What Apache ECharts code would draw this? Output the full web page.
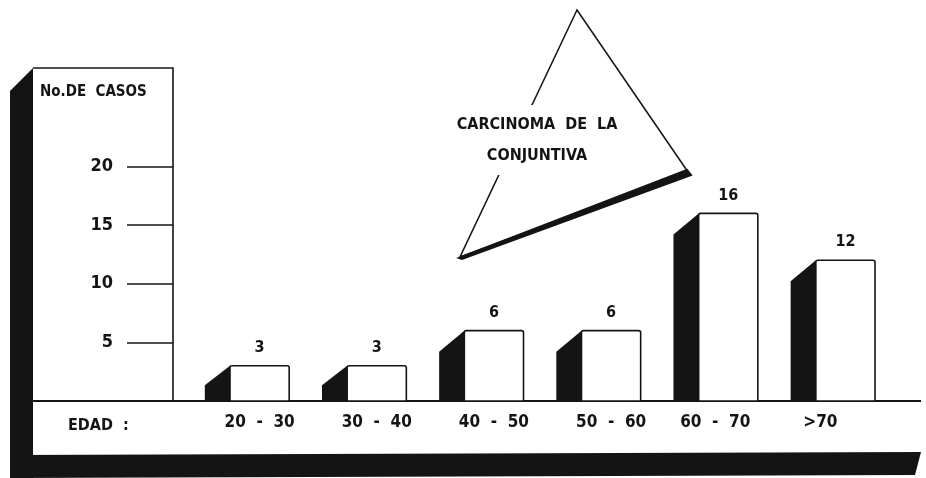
<!DOCTYPE html>
<html>
<head>
<meta charset="utf-8">
<script src="https://cdn.jsdelivr.net/npm/echarts@6/dist/echarts.min.js"></script>
<style>
  html, body { margin: 0; padding: 0; background: #fff; }
  #chart { width: 926px; height: 478px; }
</style>
</head>
<body>
<div id="chart"></div>
<script>
// Age groups and number of cases
const categories = ['20 - 30', '30 - 40', '40 - 50', '50 - 60', '60 - 70', '>70'];
const cases = [3, 3, 6, 6, 16, 12];
const yTickValues = [5, 10, 15, 20];

const titleLines = ['CARCINOMA  DE  LA', 'CONJUNTIVA'];
const yAxisTitle = 'No.DE  CASOS';
const xAxisTitle = 'EDAD  :';

const INK = '#141414';
const FONT = '"DejaVu Sans Condensed", "DejaVu Sans", sans-serif';

const chart = echarts.init(document.getElementById('chart'));

// 3D-looking bar: white front face with a black slanted side face on the left
function renderBar(params, api) {
  const top = api.coord([api.value(0), api.value(1)]);
  const base = api.coord([api.value(0), 0]);
  const band = api.size([1, 0])[0];
  const w = band * 0.505;
  const x0 = top[0] - w / 2;
  const x1 = top[0] + w / 2;
  const dx = band * 0.215;
  const h = base[1] - top[1];
  const dy = Math.min(21, h * 0.55);
  return {
    type: 'group',
    children: [
      {
        type: 'polygon',
        shape: { points: [[x0, top[1]], [x0 - dx, top[1] + dy], [x0 - dx, base[1]], [x0, base[1]]] },
        style: { fill: INK }
      },
      {
        type: 'rect',
        shape: { x: x0, y: top[1], width: w, height: h, r: [2, 2, 0, 0] },
        style: { fill: '#fff', stroke: INK, lineWidth: 1.6 }
      },
      {
        type: 'text',
        x: top[0],
        y: top[1] - 10,
        style: {
          text: String(api.value(1)),
          align: 'center',
          verticalAlign: 'bottom',
          fill: INK,
          font: 'bold 16px ' + FONT
        }
      }
    ]
  };
}

const option = {
  backgroundColor: '#fff',
  animation: false,
  grid: { left: 201, right: 22, top: 68, bottom: 77 },
  xAxis: {
    type: 'category',
    data: categories,
    axisLine: { show: false },
    axisTick: { show: false },
    axisLabel: {
      interval: 0,
      margin: 13,
      color: INK,
      fontFamily: FONT,
      fontSize: 17,
      fontWeight: 'bold',
      formatter: function (v, i) {
        const txt = v.replace(' - ', '  -  ');
        if (i === categories.length - 1) return '{s|' + txt + '}';
        if (i === categories.length - 2) return '{m|' + txt + '}';
        return txt;
      },
      rich: {
        s: { fontFamily: FONT, fontSize: 17, fontWeight: 'bold', color: INK, padding: [0, 50, 0, 0] },
        m: { fontFamily: FONT, fontSize: 17, fontWeight: 'bold', color: INK, padding: [0, 26, 0, 0] }
      }
    }
  },
  yAxis: {
    type: 'value',
    min: 0,
    max: 28.4,
    position: 'left',
    offset: 28,
    splitLine: { show: false },
    axisLine: { show: true, lineStyle: { color: INK, width: 1.6 } },
    axisTick: {
      show: true,
      customValues: yTickValues,
      length: 46,
      lineStyle: { color: INK, width: 1.6 }
    },
    axisLabel: {
      customValues: yTickValues,
      margin: 60,
      color: INK,
      fontFamily: FONT,
      fontSize: 18,
      fontWeight: 'bold'
    }
  },
  series: [{
    type: 'custom',
    renderItem: renderBar,
    data: cases.map((v, i) => [i, v]),
    z: 5
  }],
  graphic: [
    // left shadow of the panel
    { type: 'polygon', z: 1, shape: { points: [[33, 68], [10, 91], [10, 478], [33, 478]] }, style: { fill: INK } },
    // bottom shadow band
    { type: 'polygon', z: 1, shape: { points: [[10, 455], [921, 452], [915, 475], [10, 478]] }, style: { fill: INK } },
    // panel borders
    { type: 'line', z: 2, shape: { x1: 33, y1: 68, x2: 173, y2: 68 }, style: { stroke: INK, lineWidth: 1.6 } },
    { type: 'line', z: 2, shape: { x1: 33, y1: 401, x2: 921, y2: 401 }, style: { stroke: INK, lineWidth: 2 } },
    // axis titles
    {
      type: 'text', z: 3, left: 40, top: 85,
      style: { text: yAxisTitle, fill: INK, font: 'bold 15px ' + FONT }
    },
    {
      type: 'text', z: 3, left: 68, top: 418,
      style: { text: xAxisTitle, fill: INK, font: 'bold 16px ' + FONT }
    },
    // title triangle
    {
      type: 'polygon', z: 3,
      shape: { points: [[577, 10], [688, 172], [460, 257]] },
      style: { fill: '#fff', stroke: INK, lineWidth: 1.5 }
    },
    {
      type: 'polygon', z: 3,
      shape: { points: [[459, 258], [687, 170], [691, 175], [462, 259]] },
      style: { fill: INK, stroke: INK, lineWidth: 2 }
    },
    {
      type: 'text', z: 4, x: 537, y: 140,
      style: {
        text: titleLines.join('\n'),
        align: 'center',
        verticalAlign: 'middle',
        fill: INK,
        font: 'bold 16px ' + FONT,
        lineHeight: 31,
        backgroundColor: '#fff',
        padding: [4, 2, 4, 2]
      }
    }
  ]
};

chart.setOption(option);
</script>
</body>
</html>
